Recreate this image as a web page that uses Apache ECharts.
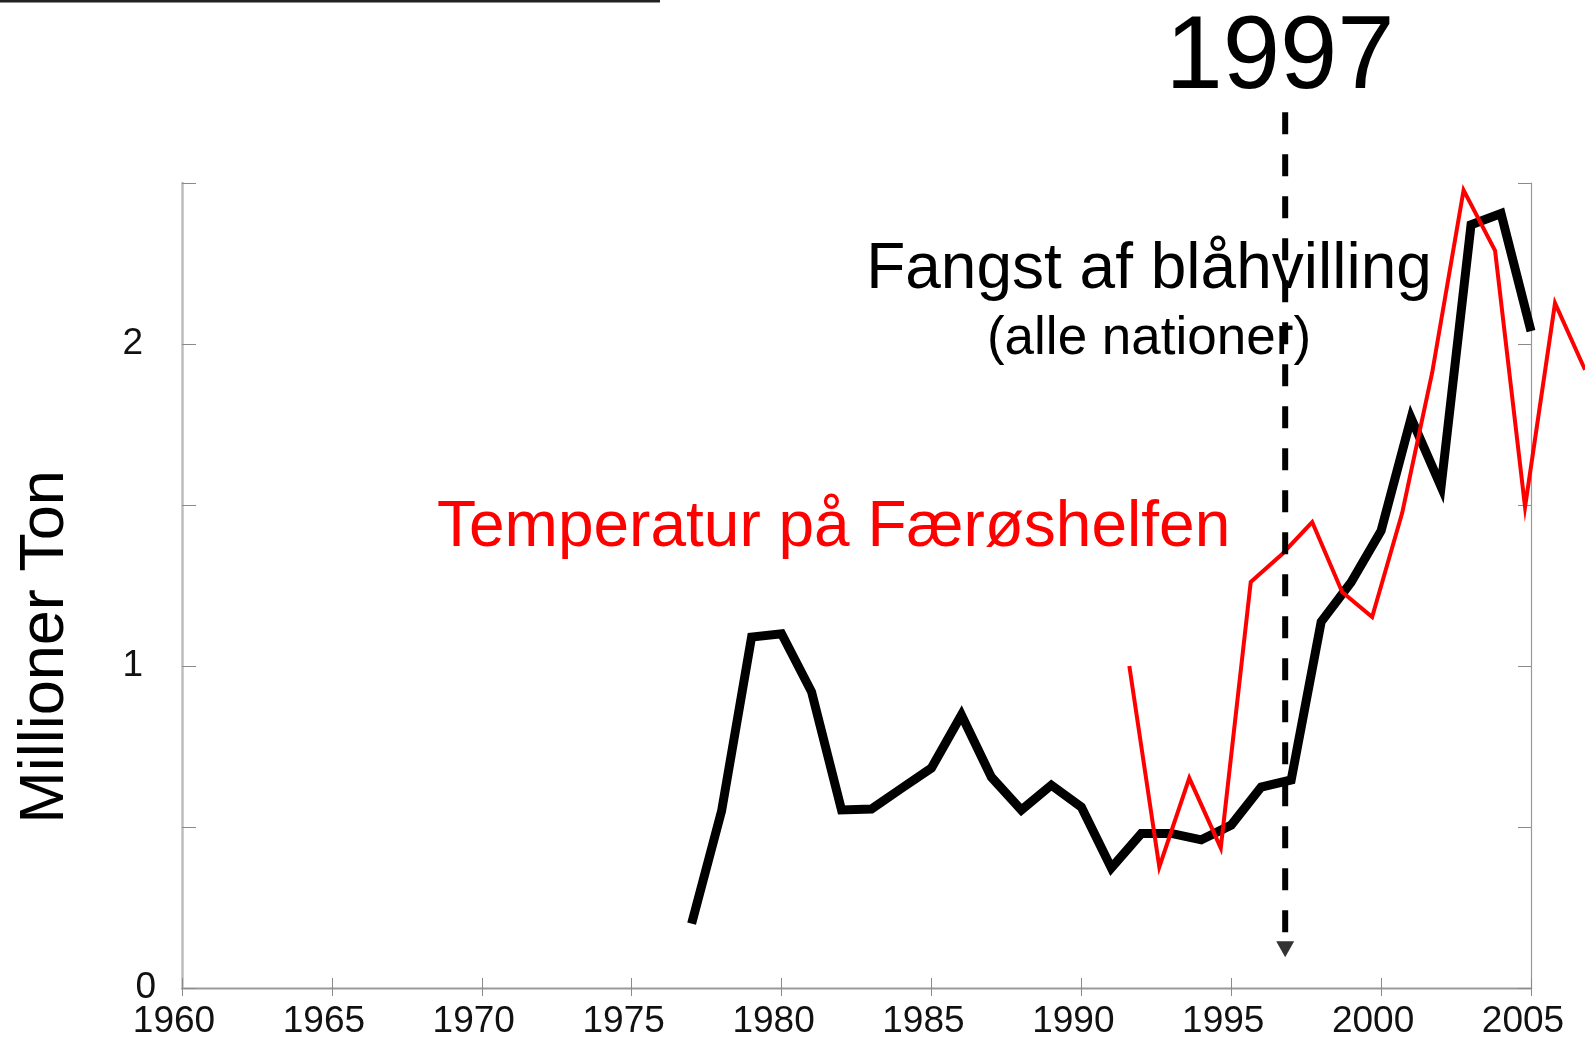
<!DOCTYPE html>
<html>
<head>
<meta charset="utf-8">
<script src="https://cdn.jsdelivr.net/npm/echarts@6/dist/echarts.min.js"></script>
<style>
  html, body { margin: 0; padding: 0; background: #fff; }
  #main { width: 1585px; height: 1040px; }
</style>
</head>
<body>
<div id="main"></div>
<script>
// Fangst af blåhvilling (mio. ton), alle nationer
var catchYears = [1977, 1978, 1979, 1980, 1981, 1982, 1983, 1984, 1985, 1986,
                  1987, 1988, 1989, 1990, 1991, 1992, 1993, 1994, 1995, 1996,
                  1997, 1998, 1999, 2000, 2001, 2002, 2003, 2004, 2005];
var catchValues = [0.20, 0.55, 1.09, 1.10, 0.92, 0.553, 0.556, 0.62, 0.683, 0.848,
                   0.655, 0.553, 0.63, 0.562, 0.373, 0.48, 0.48, 0.46, 0.506, 0.624,
                   0.646, 1.137, 1.26, 1.42, 1.77, 1.557, 2.37, 2.405, 2.04];

// Temperatur på Færøshelfen (tegnet på samme skala, forskudt)
var tempYears = [1991.6, 1992.6, 1993.6, 1994.65, 1995.65, 1996.7, 1997.7, 1998.7,
                 1999.7, 2000.7, 2001.7, 2002.75, 2003.8, 2004.8, 2005.8, 2006.8];
var tempValues = [1.00, 0.376, 0.652, 0.435, 1.261, 1.348, 1.447, 1.23,
                  1.152, 1.475, 1.91, 2.478, 2.29, 1.494, 2.127, 1.92];

// markering af 1997
var markYear = 1996.8;
var markTop = 2.72;
var markBottom = 0.165;
var arrowAt = 0.12;

var xTicks = { min: 1960, max: 2005, interval: 5 };
var yTicks = { min: 0, max: 2.5, interval: 0.5 };
// temperaturkurven løber ud over plottets højre kant, til billedets rand
var tempXMax = 2006.8;

function pairs(xs, ys) {
    return xs.map(function (x, i) { return [x, ys[i]]; });
}

var mainFont = '"Liberation Sans", Arial, Helvetica, sans-serif';
var axisGrey = '#bdbdbd';
var tickGrey = '#8a8a8a';

var myChart = echarts.init(document.getElementById('main'));

var option = {
    backgroundColor: '#fff',
    animation: false,
    grid: [
        { left: 182, right: 54, top: 183, bottom: 52 },
        { left: 182, right: 0, top: 183, bottom: 52, show: false }
    ],
    xAxis: [
        {
            type: 'value', position: 'bottom', gridIndex: 0,
            min: xTicks.min, max: xTicks.max, interval: xTicks.interval,
            axisLine: { lineStyle: { color: axisGrey, width: 2.5 } },
            axisTick: { inside: true, length: 10, lineStyle: { color: tickGrey, width: 1 } },
            splitLine: { show: false },
            axisLabel: {
                color: '#111', fontFamily: mainFont, fontSize: 37, lineHeight: 37, margin: 15,
                padding: [0, 16, 0, 0],
                formatter: function (v) { return String(v); }
            }
        },
        {
            type: 'value', position: 'top', gridIndex: 0,
            min: xTicks.min, max: xTicks.max, interval: xTicks.interval,
            axisLine: { lineStyle: { color: '#999', width: 1.2 } },
            axisTick: { inside: true, length: 8, lineStyle: { color: tickGrey, width: 1 } },
            splitLine: { show: false },
            axisLabel: { show: false }
        },
        {
            type: 'value', gridIndex: 1, show: false,
            min: xTicks.min, max: tempXMax
        }
    ],
    yAxis: [
        {
            type: 'value', position: 'left', gridIndex: 0,
            min: yTicks.min, max: yTicks.max, interval: yTicks.interval,
            axisLine: { show: true, lineStyle: { color: axisGrey, width: 2.5 } },
            axisTick: { show: true, inside: true, length: 14, lineStyle: { color: tickGrey, width: 1 } },
            splitLine: { show: false },
            axisLabel: {
                color: '#111', fontFamily: mainFont, fontSize: 37, margin: 26,
                formatter: function (v) {
                    if (v === 0) return '0';
                    if (v === 1 || v === 2) return '{p|' + v + '}';
                    return '';
                },
                rich: { p: { fontFamily: mainFont, fontSize: 37, color: '#111', padding: [0, 13, 0, 0] } }
            }
        },
        {
            type: 'value', position: 'right', gridIndex: 0,
            min: yTicks.min, max: yTicks.max, interval: yTicks.interval,
            axisLine: { show: true, lineStyle: { color: '#999', width: 1.2 } },
            axisTick: { show: true, inside: true, length: 13, lineStyle: { color: tickGrey, width: 1 } },
            splitLine: { show: false },
            axisLabel: { show: false }
        },
        {
            type: 'value', gridIndex: 1, show: false,
            min: yTicks.min, max: yTicks.max
        }
    ],
    graphic: [
        { type: 'line', shape: { x1: 0, y1: 1, x2: 660, y2: 1 }, style: { stroke: '#222', lineWidth: 3 } },
        {
            type: 'text', x: 1280, y: 60,
            style: { text: '1997', fontFamily: mainFont, fontSize: 103, fill: '#000', align: 'center', verticalAlign: 'middle' }
        },
        {
            type: 'text', x: 1149, y: 270,
            style: { text: 'Fangst af blåhvilling', fontFamily: mainFont, fontSize: 64, fill: '#000', align: 'center', verticalAlign: 'middle' }
        },
        {
            type: 'text', x: 1149, y: 339,
            style: { text: '(alle nationer)', fontFamily: mainFont, fontSize: 53, fill: '#000', align: 'center', verticalAlign: 'middle' }
        },
        {
            type: 'text', x: 437, y: 528,
            style: { text: 'Temperatur på Færøshelfen', fontFamily: mainFont, fontSize: 64, fill: '#ff0000', align: 'left', verticalAlign: 'middle' }
        },
        {
            type: 'text', x: 46, y: 647, rotation: Math.PI / 2,
            style: { text: 'Millioner Ton', fontFamily: mainFont, fontSize: 63, fill: '#000', align: 'center', verticalAlign: 'middle' }
        }
    ],
    series: [
        {
            name: 'Fangst',
            type: 'line',
            data: pairs(catchYears, catchValues),
            showSymbol: false,
            lineStyle: { color: '#000', width: 9, join: 'miter', cap: 'butt' },
            z: 3
        },
        {
            name: 'Temperatur',
            type: 'line',
            xAxisIndex: 2,
            yAxisIndex: 2,
            data: pairs(tempYears, tempValues),
            showSymbol: false,
            clip: false,
            lineStyle: { color: '#ff0000', width: 4, join: 'miter' },
            z: 4
        },
        {
            name: '1997',
            type: 'line',
            data: [[markYear, markTop], [markYear, markBottom]],
            showSymbol: false,
            clip: false,
            lineStyle: { color: '#000', width: 6, type: [22, 20] },
            z: 5
        },
        {
            name: 'pil',
            type: 'scatter',
            data: [[markYear, arrowAt]],
            symbol: 'triangle',
            symbolSize: [18, 16],
            symbolRotate: 180,
            clip: false,
            itemStyle: { color: '#000' },
            z: 5
        }
    ]
};

myChart.setOption(option);
</script>
</body>
</html>
